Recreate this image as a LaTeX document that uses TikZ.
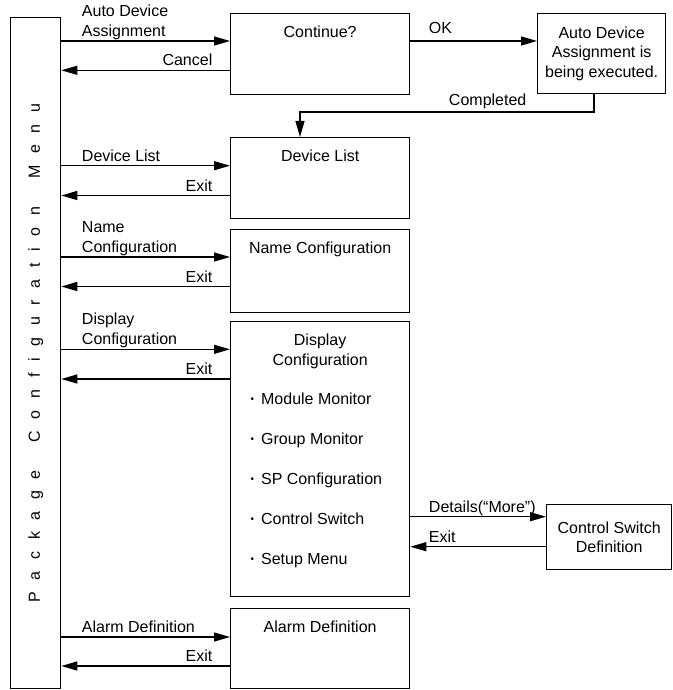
\documentclass[tikz,border=0pt]{standalone}
\usepackage{fontspec}
\setmainfont{Liberation Sans}
\usetikzlibrary{arrows.meta}
\newcommand\lsp{\kern11.7pt}
\newcommand\itembul{{\fontsize{10}{10}\selectfont\raisebox{1.5pt}{•}}\kern7pt}
\begin{document}
\begin{tikzpicture}[x=1pt,y=-1pt, font=\fontsize{16}{19.5}\selectfont, line width=1.3pt,
  box/.style={draw, anchor=north west, inner sep=0pt},
  arr/.style={-{Triangle[length=16pt,width=9pt]}},
  lbl/.style={inner sep=0pt}]
\useasboundingbox (0,0) rectangle (672,690);
% boxes
\node[box, minimum width=50pt, minimum height=671pt] (menu) at (10,17) {};
\node[box, minimum width=179pt, minimum height=81pt] (cont) at (230,13) {};
\node[box, minimum width=128pt, minimum height=80pt] (autob) at (537,13) {};
\node[box, minimum width=179pt, minimum height=81pt] (dlist) at (230,137) {};
\node[box, minimum width=179pt, minimum height=83pt] (nconf) at (230,229) {};
\node[box, minimum width=179pt, minimum height=275pt] (dconf) at (230,321) {};
\node[box, minimum width=125pt, minimum height=65pt] (csd) at (546,504) {};
\node[box, minimum width=179pt, minimum height=80pt] (alarm) at (230,608) {};
% texts in boxes
\node[lbl, rotate=90] (mt) at (menu.center) {P\lsp a\lsp c\lsp k\lsp a\lsp g\lsp e\lsp\ \lsp C\lsp o\lsp n\lsp f\lsp i\lsp g\lsp u\lsp r\lsp a\lsp t\lsp i\lsp o\lsp n\lsp\ \lsp M\lsp e\lsp n\lsp u};
\node[lbl, anchor=base] (t1) at ([yshift=-24.5pt]cont.north) {Continue?};
\node[lbl, align=center] (t2) at (autob.center) {Auto Device\\Assignment is\\being executed.};
\node[lbl, anchor=base] (t3) at ([yshift=-24.5pt]dlist.north) {Device List};
\node[lbl, anchor=base] (t4) at ([yshift=-24.5pt]nconf.north) {Name Configuration};
\node[lbl, anchor=base] (t5a) at ([yshift=-24.5pt]dconf.north) {Display};
\node[lbl, anchor=base] (t5b) at ([yshift=-44pt]dconf.north) {Configuration};
\node[lbl, anchor=base west] (i1) at (250,404) {\itembul Module Monitor};
\node[lbl, anchor=base west] (i2) at (250,444) {\itembul Group Monitor};
\node[lbl, anchor=base west] (i3) at (250,484) {\itembul SP Configuration};
\node[lbl, anchor=base west] (i4) at (250,524) {\itembul Control Switch};
\node[lbl, anchor=base west] (i5) at (250,564) {\itembul Setup Menu};
\node[lbl, align=center] (t6) at (csd.center) {Control Switch\\Definition};
\node[lbl, anchor=base] (t7) at ([yshift=-24.5pt]alarm.north) {Alarm Definition};
% arrow levels
\coordinate (y1) at (0,41);
\coordinate (y2) at (0,70.3);
\coordinate (y3) at (0,165.7);
\coordinate (y4) at (0,195.5);
\coordinate (y5) at (0,257);
\coordinate (y6) at (0,286.5);
\coordinate (y7) at (0,349.3);
\coordinate (y8) at (0,379);
\coordinate (y9) at (0,516.7);
\coordinate (y10) at (0,546.7);
\coordinate (y11) at (0,637);
\coordinate (y12) at (0,666);
\coordinate (cx) at (594,112);
\coordinate (dx) at (300,112);
% connectors
\draw[arr] (menu.east |- y1) -- node[lbl, pos=0, anchor=south west, xshift=20pt, yshift=1pt, align=left] {Auto Device\\Assignment} (cont.west |- y1);
\draw[arr] (cont.west |- y2) -- node[lbl, pos=0, anchor=base east, xshift=-17pt, yshift=4.5pt] {Cancel} (menu.east |- y2);
\draw[arr] (cont.east |- y1) -- node[lbl, pos=0, anchor=base west, xshift=18pt, yshift=7pt] {OK} (autob.west |- y1);
\draw[arr] (autob.south -| cx) -- (cx) -- (dx) -- (dlist.north -| dx);
\node[lbl, anchor=base east] (lc) at (527,106) {Completed};
\draw[arr] (menu.east |- y3) -- node[lbl, pos=0, anchor=base west, xshift=20pt, yshift=4.5pt] {Device List} (dlist.west |- y3);
\draw[arr] (dlist.west |- y4) -- node[lbl, pos=0, anchor=base east, xshift=-17pt, yshift=4.5pt] {Exit} (menu.east |- y4);
\draw[arr] (menu.east |- y5) -- node[lbl, pos=0, anchor=south west, xshift=20pt, yshift=1pt, align=left] {Name\\Configuration} (nconf.west |- y5);
\draw[arr] (nconf.west |- y6) -- node[lbl, pos=0, anchor=base east, xshift=-17pt, yshift=4.5pt] {Exit} (menu.east |- y6);
\draw[arr] (menu.east |- y7) -- node[lbl, pos=0, anchor=south west, xshift=20pt, yshift=1pt, align=left] {Display\\Configuration} (dconf.west |- y7);
\draw[arr] (dconf.west |- y8) -- node[lbl, pos=0, anchor=base east, xshift=-17pt, yshift=4.5pt] {Exit} (menu.east |- y8);
\draw[arr] (dconf.east |- y9) -- node[lbl, pos=0, anchor=base west, xshift=18pt, yshift=4.5pt] {Details(“More”)} (csd.west |- y9);
\draw[arr] (csd.west |- y10) -- node[lbl, pos=1, anchor=base west, xshift=18pt, yshift=4.5pt] {Exit} (dconf.east |- y10);
\draw[arr] (menu.east |- y11) -- node[lbl, pos=0, anchor=base west, xshift=20pt, yshift=4.5pt] {Alarm Definition} (alarm.west |- y11);
\draw[arr] (alarm.west |- y12) -- node[lbl, pos=0, anchor=base east, xshift=-17pt, yshift=4.5pt] {Exit} (menu.east |- y12);
\end{tikzpicture}
\end{document}
